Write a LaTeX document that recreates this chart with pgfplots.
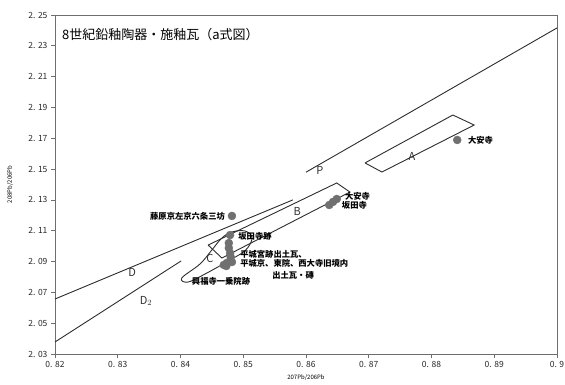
\documentclass[border=0pt]{standalone}
\usepackage{pgfplots}
\pgfplotsset{compat=1.18}
\usepackage{fontspec}
\setmainfont{Noto Sans CJK JP}
\begin{document}
\begin{tikzpicture}
\definecolor{pt}{RGB}{112,112,112}
\definecolor{ln}{RGB}{45,45,45}
\definecolor{fr}{RGB}{110,110,110}
\begin{axis}[
  scale only axis, width=502pt, height=339pt,
  xmin=0.82, xmax=0.9, ymin=2.03, ymax=2.25,
  xtick={0.82,0.83,0.84,0.85,0.86,0.87,0.88,0.89,0.9},
  xticklabels={0. 82,0. 83,0. 84,0. 85,0. 86,0. 87,0. 88,0. 89,0. 9},
  ytick={2.03,2.05,2.07,2.09,2.11,2.13,2.15,2.17,2.19,2.21,2.23,2.25},
  yticklabels={2. 03,2. 05,2. 07,2. 09,2. 11,2. 13,2. 15,2. 17,2. 19,2. 21,2. 23,2. 25},
  tick align=outside, tick pos=left, major tick length=4pt,
  axis line style={draw=fr, line width=1pt},
  tick style={draw=fr, line width=0.8pt},
  ticklabel style={font=\fontsize{8.5}{9}\selectfont, text=black!85},
  clip=false,
]
% lines
\addplot[ln, line width=0.9pt] coordinates {(0.82,2.0657) (0.8579,2.1300)}; % D
\addplot[ln, line width=0.9pt] coordinates {(0.82,2.0378) (0.8401,2.0904)}; % D2
\addplot[ln, line width=0.9pt] coordinates {(0.86,2.148) (0.9,2.2416)}; % P
% A
\addplot[ln, line width=0.9pt] coordinates {(0.8694,2.1540) (0.8834,2.1851) (0.8868,2.1786) (0.8721,2.1481) (0.8694,2.1540)};
% B
\addplot[ln, line width=0.9pt] coordinates {(0.8444,2.1007) (0.8649,2.1410) (0.8670,2.1351) (0.8466,2.0923) (0.8444,2.1007)};
% C
\addplot[ln, line width=0.9pt, smooth cycle, tension=0.6] coordinates {
 (0.8402,2.0793) (0.8431,2.0884) (0.8450,2.0975) (0.8466,2.1053) (0.8482,2.1092)
 (0.8503,2.1098) (0.8514,2.1053) (0.8504,2.0975) (0.8479,2.0910) (0.8439,2.0819) (0.8412,2.0767)};
% points
\addplot[only marks, mark=*, mark size=4pt, color=pt] coordinates {
 (0.8841,2.1689)
 (0.8637,2.1267) (0.8643,2.1287) (0.8649,2.1306)
 (0.8482,2.1196)
 (0.8479,2.1072)
 (0.8477,2.1020) (0.8477,2.0988) (0.8479,2.0955) (0.8480,2.0930) (0.8479,2.0904)
 (0.8474,2.0891) (0.8469,2.0878) (0.8482,2.0897) (0.8473,2.0871)};
% region labels
\begin{scope}[every node/.style={font=\fontsize{11}{11}\selectfont, text=black!80}]
\node at (axis cs:0.8769,2.1584) {A};
\node at (axis cs:0.8586,2.1228) {B};
\node at (axis cs:0.8447,2.0923) {C};
\node at (axis cs:0.8323,2.0832) {D};
\node at (axis cs:0.8345,2.0644) {D$_2$};
\node at (axis cs:0.8622,2.1494) {P};
\end{scope}
% site labels
\begin{scope}[every node/.style={font=\fontsize{8.3}{8.5}\selectfont\bfseries, inner sep=0pt, anchor=west}]
\node at (axis cs:0.8858,2.1689) {大安寺};
\node at (axis cs:0.8662,2.1325) {大安寺};
\node at (axis cs:0.8657,2.1267) {坂田寺};
\node[anchor=east] at (axis cs:0.8471,2.1196) {藤原京左京六条三坊};
\node at (axis cs:0.8492,2.1066) {坂田寺跡};
\node at (axis cs:0.8495,2.0949) {平城宮跡出土瓦、};
\node at (axis cs:0.8495,2.0891) {平城京、東院、西大寺旧境内};
\node at (axis cs:0.8546,2.0813) {出土瓦・磚};
\node at (axis cs:0.8418,2.0774) {興福寺一乗院跡};
\end{scope}
\node[anchor=west, font=\fontsize{13}{13}\selectfont, inner sep=0pt] at (axis cs:0.8211,2.237) {8世紀鉛釉陶器・施釉瓦（a式図）};
\node[font=\fontsize{6}{6}\selectfont] at ([yshift=-24pt]rel axis cs:0.5,0) {207Pb/206Pb};
\node[font=\fontsize{6}{6}\selectfont, rotate=90] at ([xshift=-45pt]rel axis cs:0,0.5) {208Pb/206Pb};
\end{axis}
\pgfresetboundingbox
\useasboundingbox ([xshift=-55pt,yshift=-30pt]current axis.south west) rectangle ([xshift=8pt,yshift=15pt]current axis.north east);
\end{tikzpicture}
\end{document}
